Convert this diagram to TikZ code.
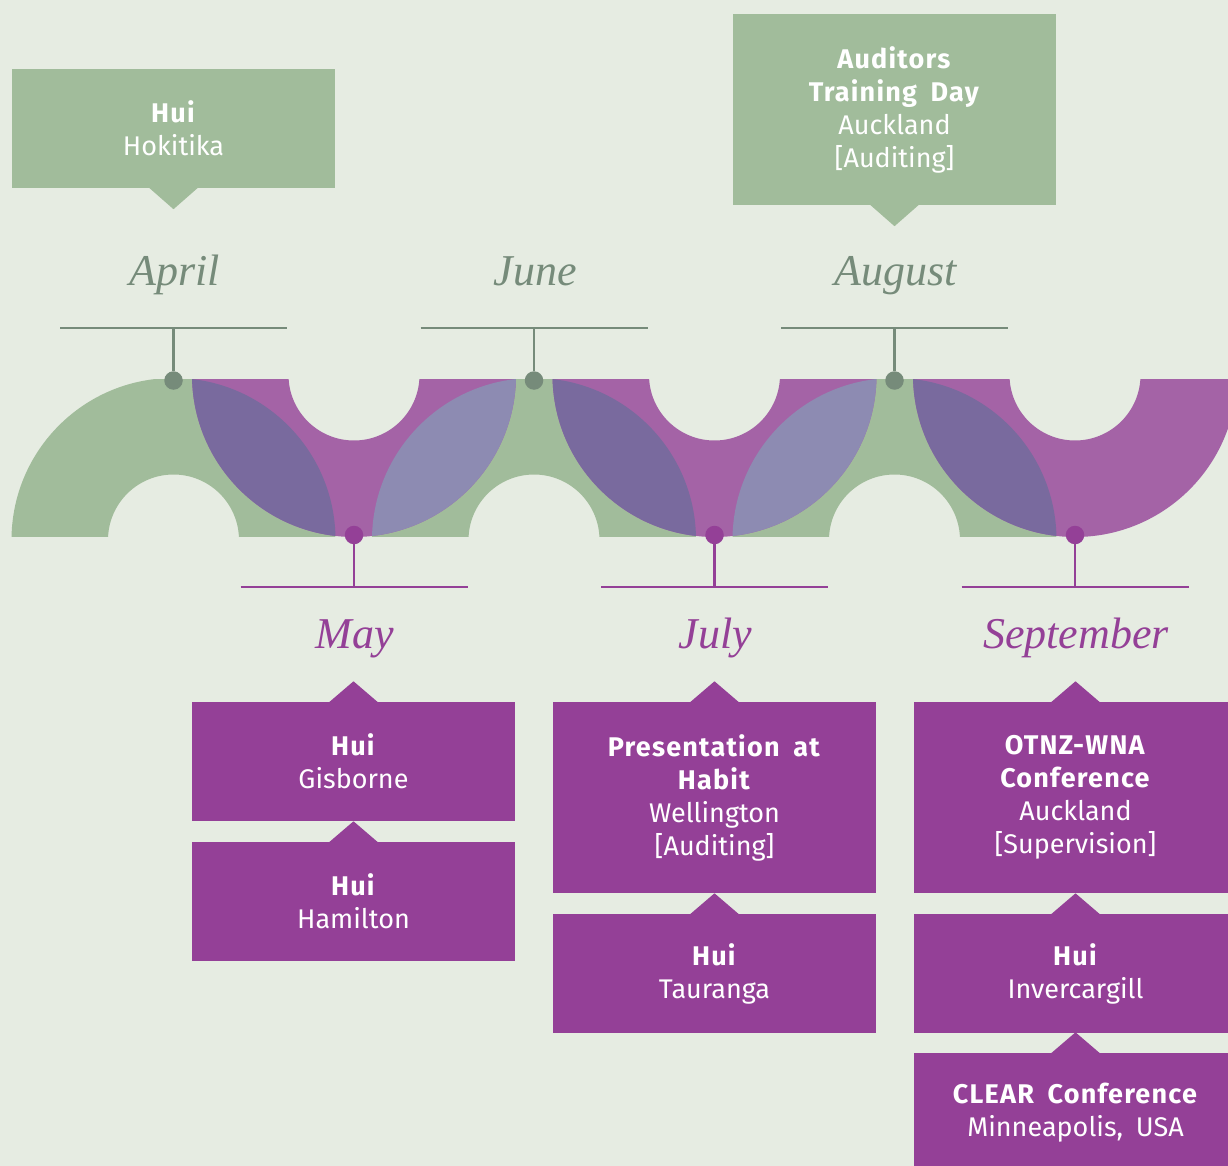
\documentclass[tikz,border=0pt]{standalone}
\usepackage{fontspec}
\newfontfamily\boxfont{Fira Sans}[WordSpace=1.8, BoldFeatures={LetterSpace=4.5}]
\newfontfamily\monthfont{Liberation Serif}
\usetikzlibrary{calc}
\definecolor{bg}{HTML}{E6ECE2}
\definecolor{greenfill}{HTML}{A1BC9B}
\definecolor{archpurple}{HTML}{A463A6}
\definecolor{boxpurple}{HTML}{944097}
\definecolor{darklens}{HTML}{796A9E}
\definecolor{lightlens}{HTML}{8D8BB2}
\definecolor{greyline}{HTML}{768B7A}
\begin{document}
\begin{tikzpicture}[x=1pt,y=-1pt,
  evbox/.style={text=white, minimum width=323pt, inner sep=0pt, align=center,
    font=\boxfont\fontsize{27}{33}\selectfont},
  gbox/.style={evbox, fill=greenfill},
  pbox/.style={evbox, fill=boxpurple},
  twoline/.style={minimum height=119pt},
  fourline/.style={minimum height=191pt},
  topmonth/.style={anchor=base, text=greyline, font=\monthfont\itshape\fontsize{44}{50}\selectfont},
  botmonth/.style={anchor=base, text=boxpurple, font=\monthfont\itshape\fontsize{44}{50}\selectfont},
  gdot/.style={circle, fill=greyline, minimum size=18.5pt, inner sep=0pt},
  pdot/.style={circle, fill=boxpurple, minimum size=18.5pt, inner sep=0pt},
  gstem/.style={draw=greyline, line width=2.8pt},
  pstem/.style={draw=boxpurple, line width=2.8pt}]
\path[use as bounding box] (0,0) rectangle (1228,1166);
\clip (0,0) rectangle (1228,1166);
\fill[bg] (0,0) rectangle (1228,1166);

% band of arches
\begin{scope}
\clip (0,379) rectangle (1228,536);
\foreach \x in {173.5,534,894.5}
  \fill[greenfill, even odd rule] (\x,540) circle[radius=162pt] (\x,540) circle[radius=65.5pt];
\foreach \x in {354,714.5,1075}
  \fill[archpurple, even odd rule] (\x,375) circle[radius=162pt] (\x,375) circle[radius=65.5pt];
\foreach \g/\p in {173.5/354,534/714.5,894.5/1075}{
  \begin{scope}
    \clip (\g,540) circle[radius=162pt];
    \fill[darklens] (\p,375) circle[radius=162pt];
  \end{scope}}
\foreach \p/\g in {354/534,714.5/894.5}{
  \begin{scope}
    \clip (\p,375) circle[radius=162pt];
    \fill[lightlens] (\g,540) circle[radius=162pt];
  \end{scope}}
\end{scope}

% top markers
\foreach \n/\x in {Apr/173.5,Jun/534,Aug/894.5}{
  \coordinate (l\n) at (\x,328);
  \draw[gstem] ($(l\n)+(-113.5,0)$) -- ($(l\n)+(113.5,0)$);
  \node[gdot] (d\n) at (\x,380.5) {};
  \draw[gstem] (l\n) -- (d\n);
}
% bottom markers
\foreach \n/\x in {May/354,Jul/714.5,Sep/1075}{
  \coordinate (l\n) at (\x,587);
  \draw[pstem] ($(l\n)+(-113.5,0)$) -- ($(l\n)+(113.5,0)$);
  \node[pdot] (d\n) at (\x,535) {};
  \draw[pstem] (d\n) -- (l\n);
}

% month labels
\node[topmonth] (mApr) at (174.5,285) {April};
\node[topmonth] (mJun) at (535,285) {June};
\node[topmonth] (mAug) at (895.5,285) {August};
\node[botmonth] (mMay) at (355,648) {May};
\node[botmonth] (mJul) at (715.5,648) {July};
\node[botmonth] (mSep) at (1076,648) {September};

% green boxes (pointer below)
\node[gbox, twoline] (bApr) at (173.5,128.5) {\textbf{Hui}\\Hokitika};
\node[gbox, fourline] (bAug) at (894.5,109.5) {\textbf{Auditors}\\\textbf{Training Day}\\Auckland\\{[Auditing]}};
\foreach \b in {bApr,bAug}
  \fill[greenfill] ($(\b.south)+(-24.5,-0.5)$) -- ($(\b.south)+(24.5,-0.5)$) -- ($(\b.south)+(0,21)$) -- cycle;

% purple boxes (pointer above)
\node[pbox, twoline] (bMayA) at (353.5,761.5) {\textbf{Hui}\\Gisborne};
\node[pbox, twoline] (bMayB) at (353.5,901.5) {\textbf{Hui}\\Hamilton};
\node[pbox, fourline] (bJulA) at (714.5,797.5) {\textbf{Presentation at}\\\textbf{Habit}\\Wellington\\{[Auditing]}};
\node[pbox, twoline] (bJulB) at (714.5,973.5) {\textbf{Hui}\\Tauranga};
\node[pbox, fourline] (bSepA) at (1075.5,797.5) {\textbf{OTNZ-WNA}\\\textbf{Conference}\\Auckland\\{[Supervision]}};
\node[pbox, twoline] (bSepB) at (1075.5,973.5) {\textbf{Hui}\\Invercargill};
\node[pbox, twoline] (bSepC) at (1075.5,1112.5) {\textbf{CLEAR Conference}\\Minneapolis, USA};
\foreach \b in {bMayA,bMayB,bJulA,bJulB,bSepA,bSepB,bSepC}
  \fill[boxpurple] ($(\b.north)+(-24.5,0.5)$) -- ($(\b.north)+(24.5,0.5)$) -- ($(\b.north)+(0,-20.5)$) -- cycle;
\end{tikzpicture}
\end{document}
